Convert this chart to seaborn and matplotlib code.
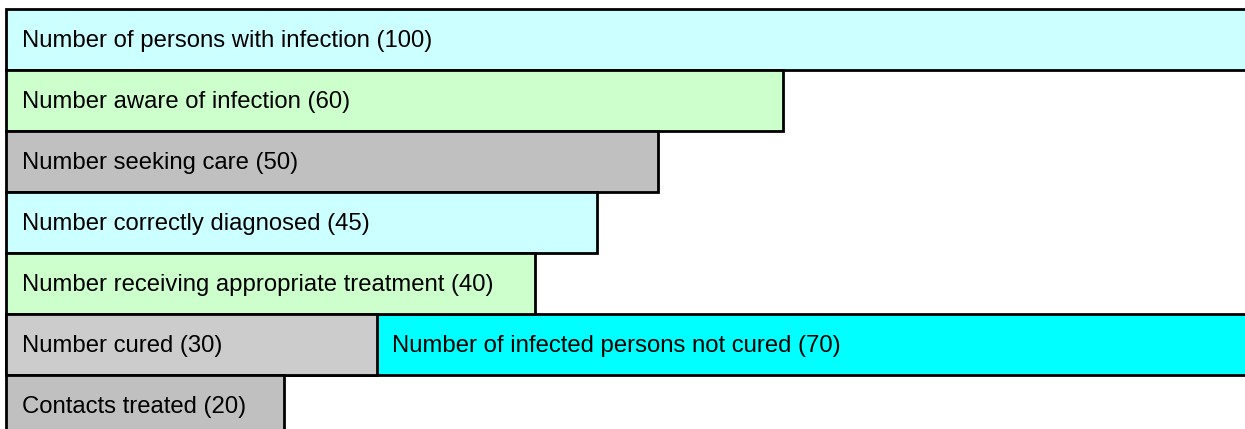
import pandas as pd
import matplotlib
matplotlib.use("Agg")
import matplotlib.pyplot as plt
import seaborn as sns

# stages of the cascade, top to bottom
stages = ["Number of persons with infection", "Number aware of infection",
          "Number seeking care", "Number correctly diagnosed",
          "Number receiving appropriate treatment", "Number cured",
          "Contacts treated"]
counts = [100, 60, 50, 45, 40, 30, 20]
# drawn bar lengths as they appear in the picture (first bar = 100)
bar_lengths = [100, 62, 52, 47.1, 42.2, 29.6, 22.2]

# the extra segment sharing the "cured" row
not_cured_label = "Number of infected persons not cured"
not_cured_count = 70
not_cured_row = "Number cured"

row_colors = ["#CCFFFF", "#CCFFCC", "#C0C0C0", "#CCFFFF", "#CCFFCC", "#CCCCCC", "#C0C0C0"]
not_cured_color = "#00FFFF"

df = pd.DataFrame({"stage": stages, "length": bar_lengths, "count": counts})
# total row length for the cured row (cured + not cured), drawn first underneath
df_total = pd.DataFrame({"stage": [not_cured_row],
                         "length": [bar_lengths[stages.index(not_cured_row)] + not_cured_count]})

sns.set_style("white")
plt.rcParams["font.family"] = ["Liberation Sans", "DejaVu Sans"]

fig = plt.figure(figsize=(12.45, 4.29), dpi=100)
ax = fig.add_axes([0, 0, 1, 1])

sns.barplot(data=df_total, x="length", y="stage", order=stages, color=not_cured_color,
            saturation=1, width=1, edgecolor="black", linewidth=2.0, orient="h", ax=ax)
sns.barplot(data=df, x="length", y="stage", order=stages, hue="stage", palette=row_colors,
            saturation=1, width=1, edgecolor="black", linewidth=2.0, orient="h",
            legend=False, ax=ax)

# pixel mapping: left edge at 6px, 12.54 px per unit; rows 61px tall from y=9
ax.set_xlim(-6 / 12.54, (1245 - 6) / 12.54)
ax.set_ylim(-0.5 + (429 - 9) / 61, -0.5 - 9 / 61)
ax.axis("off")

pad = 16 / 12.54
for i, row in df.iterrows():
    ax.text(pad, i + 0.02, f"{row['stage']} ({row['count']})", va="center", ha="left",
            fontsize=17.2, color="black")
r = stages.index(not_cured_row)
ax.text(bar_lengths[r] + 15 / 12.54, r + 0.02, f"{not_cured_label} ({not_cured_count})",
        va="center", ha="left", fontsize=17.2, color="black")

fig.savefig("out.png", dpi=100)
